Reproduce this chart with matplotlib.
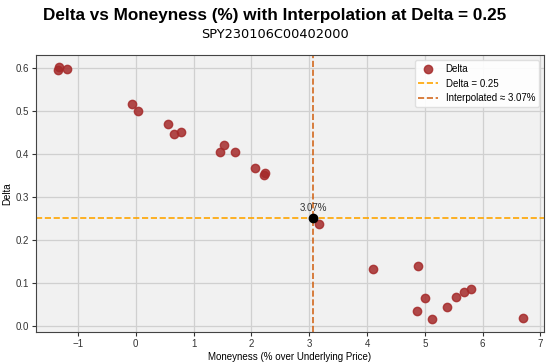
import matplotlib
matplotlib.use('Agg')
import matplotlib.pyplot as plt
import numpy as np

# Dados
moneyness = [-1.35, -1.32, -1.19, -0.07, 0.03, 0.56, 0.66, 0.78, 1.45, 1.53, 1.72,
             2.07, 2.21, 2.24, 3.17, 4.10, 4.88, 4.86, 5.00, 5.13, 5.38, 5.54,
             5.68, 5.79, 6.70]
delta = [0.595, 0.602, 0.597, 0.517, 0.500, 0.470, 0.447, 0.450, 0.405, 0.420, 0.405,
         0.367, 0.350, 0.355, 0.237, 0.133, 0.140, 0.035, 0.064, 0.016, 0.044, 0.067,
         0.080, 0.086, 0.018]
target_delta = 0.25
interp_x = 3.07
contract = 'SPY230106C00402000'

plt.rcParams['font.family'] = ['Liberation Sans', 'DejaVu Sans']

fig = plt.figure(figsize=(5.5, 3.62), dpi=100)
ax = fig.add_axes([0.065, 0.083, 0.924, 0.765])
ax.set_facecolor('#f1f1f1')
ax.grid(True, color='#d0d0d0', linewidth=0.9)
ax.set_axisbelow(True)
for s in ax.spines.values():
    s.set_color('#444444')

ax.scatter(moneyness, delta, color='#a52a2a', alpha=0.85, s=36, label='Delta', zorder=3)
ax.axhline(target_delta, color='#ffa500', linestyle='--', linewidth=1.2,
           label=f'Delta = {target_delta}')
ax.axvline(interp_x, color='#d2691e', linestyle='--', linewidth=1.2,
           label=f'Interpolated ≈ {interp_x:.2f}%')
ax.scatter([interp_x], [target_delta], color='black', s=36, zorder=4)
ax.annotate(f'{interp_x:.2f}%', (interp_x, target_delta), xytext=(0, 5),
            textcoords='offset points', ha='center', fontsize=7, color='#333333')

ax.set_xlim(-1.73, 7.06)
ax.set_ylim(-0.014, 0.63)
ax.set_xticks(np.arange(-1, 8, 1))
ax.set_yticks(np.arange(0, 0.61, 0.1))
ax.tick_params(labelsize=7, colors='#333333', length=3, pad=2)
ax.set_xlabel('Moneyness (% over Underlying Price)', fontsize=7, labelpad=2)
ax.set_ylabel('Delta', fontsize=7, labelpad=2)

fig.text(0.5, 0.957, 'Delta vs Moneyness (%) with Interpolation at Delta = 0.25',
         ha='center', va='center', fontsize=12.3, fontweight='bold')
fig.text(0.5, 0.905, contract, ha='center', va='center', fontsize=9.3,
         family='DejaVu Sans')

ax.legend(loc='upper right', fontsize=7, frameon=True, facecolor='white',
          edgecolor='#dddddd', framealpha=0.9)

fig.savefig('out.png', dpi=100)
